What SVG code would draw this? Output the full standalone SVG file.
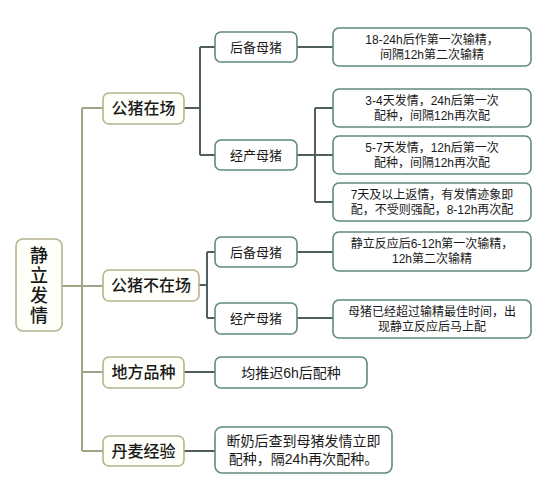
<svg xmlns="http://www.w3.org/2000/svg" width="550" height="481" viewBox="0 0 550 481">
<style>
text{font-family:"Liberation Sans","Noto Sans CJK SC",sans-serif;fill:#1a1a1a;text-anchor:middle;dominant-baseline:central}
.l1{fill:#fffffa;stroke:#b7b38f;stroke-width:1.6}
.l2{fill:#ffffff;stroke:#5f8a7d;stroke-width:1.6}
.t1{font-size:16px;font-weight:500}
.t2{font-size:13px}
.t3{font-size:12px}
.t4{font-size:14px}
.ca{fill:none;stroke:#a3a386;stroke-width:2}
.cb{fill:none;stroke:#4f5f59;stroke-width:2}
</style>
<rect width="550" height="481" fill="#ffffff"/>
<g id="connectors">
<path class="ca" d="M62 286H103M82 108V451M82 108H103M82 372H103M82 451H103"/>
<path class="cb" d="M184 108H200M200 47V155M200 47H215M200 155H215"/>
<path class="cb" d="M297 47H333M297 155H315M315 108V202M315 108H333M315 155H333M315 202H333"/>
<path class="cb" d="M199 285H207M207 252V318M207 252H215M207 318H215"/>
<path class="cb" d="M297 252H333M297 318H333"/>
<path class="cb" d="M184 372H215M184 451H215"/>
</g>
<g id="root"><rect class="l1" x="16" y="239" width="46" height="92" rx="7"/>
<text x="39" y="286" font-size="18" font-weight="500" writing-mode="tb" letter-spacing="2" style="font-family:'Noto Sans CJK SC',sans-serif">静立发情</text></g>
<g id="n1"><rect class="l1" x="103" y="93" width="81" height="31" rx="6"/><text class="t1" x="143.5" y="108.5">公猪在场</text></g>
<g id="n2"><rect class="l1" x="103" y="270" width="96" height="31" rx="6"/><text class="t1" x="151" y="285.5">公猪不在场</text></g>
<g id="n3"><rect class="l1" x="103" y="357" width="81" height="31" rx="6"/><text class="t1" x="143.5" y="372.5">地方品种</text></g>
<g id="n4"><rect class="l1" x="103" y="436" width="81" height="30" rx="6"/><text class="t1" x="143.5" y="451">丹麦经验</text></g>
<g id="n1a"><rect class="l2" x="215" y="32" width="82" height="30" rx="6"/><text class="t2" x="256" y="47">后备母猪</text></g>
<g id="n1b"><rect class="l2" x="215" y="140" width="82" height="30" rx="6"/><text class="t2" x="256" y="155">经产母猪</text></g>
<g id="n2a"><rect class="l2" x="215" y="237" width="82" height="30" rx="6"/><text class="t2" x="256" y="252">后备母猪</text></g>
<g id="n2b"><rect class="l2" x="215" y="303" width="82" height="31" rx="6"/><text class="t2" x="256" y="318.5">经产母猪</text></g>
<g id="r1"><rect class="l2" x="333" y="28" width="198" height="38" rx="6"/><text class="t3" x="432" y="39.5">18-24h后作第一次输精，<tspan x="432" dy="15">间隔12h第二次输精</tspan></text></g>
<g id="r2"><rect class="l2" x="333" y="89" width="198" height="38" rx="6"/><text class="t3" x="432" y="100.5">3-4天发情，24h后第一次<tspan x="432" dy="15">配种，间隔12h再次配</tspan></text></g>
<g id="r3"><rect class="l2" x="333" y="136" width="198" height="38" rx="6"/><text class="t3" x="432" y="147.5">5-7天发情，12h后第一次<tspan x="432" dy="15">配种，间隔12h再次配</tspan></text></g>
<g id="r4"><rect class="l2" x="333" y="183" width="198" height="38" rx="6"/><text class="t3" x="432" y="194.5">7天及以上返情，有发情迹象即<tspan x="432" dy="15">配，不受则强配，8-12h再次配</tspan></text></g>
<g id="r5"><rect class="l2" x="333" y="232" width="198" height="39" rx="6"/><text class="t3" x="432" y="244">静立反应后6-12h第一次输精，<tspan x="432" dy="15">12h第二次输精</tspan></text></g>
<g id="r6"><rect class="l2" x="333" y="300" width="198" height="38" rx="6"/><text class="t3" x="432" y="311.5">母猪已经超过输精最佳时间，出<tspan x="432" dy="15">现静立反应后马上配</tspan></text></g>
<g id="r7"><rect class="l2" x="215" y="357" width="152" height="31" rx="6"/><text class="t4" x="291" y="372.5">均推迟6h后配种</text></g>
<g id="r8"><rect class="l2" x="215" y="427" width="177" height="46" rx="7"/><text class="t4" x="303.5" y="441">断奶后查到母猪发情立即<tspan x="303.5" dy="18">配种，隔24h再次配种。</tspan></text></g>
</svg>
